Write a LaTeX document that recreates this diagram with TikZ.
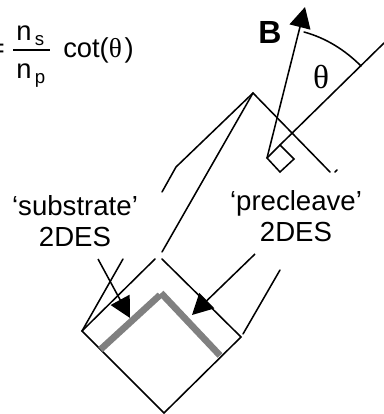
\documentclass[tikz,border=0pt]{standalone}
\usepackage{fontspec}
\setmainfont{Liberation Sans}
\newfontfamily\thetafont{Liberation Serif}
\usepackage{xcolor}
\usetikzlibrary{arrows.meta}
\tikzset{
  edgeline/.style={line width=1.15pt,line cap=round,line join=miter},
  layerline/.style={line width=5pt,draw=black!50,line join=miter},
  pointer/.style={line width=1.15pt,-{Triangle[length=15.5pt,width=16pt]}},
  labeltext/.style={font=\fontsize{20.7}{23}\selectfont,align=center,inner sep=0pt},
  formula/.style={font=\fontsize{20.5}{24}\selectfont,inner sep=0pt}
}
\begin{document}
\begin{tikzpicture}[x=0.75pt,y=-0.75pt]
  \useasboundingbox (0,0) rectangle (384,414);
  \clip (0,0) rectangle (384,414);
  % sample outline
  \coordinate (leftv) at (82,331);
  \coordinate (bottomv) at (164,413);
  \coordinate (rightv) at (241,337);
  \coordinate (apex) at (253,93);
  \draw[edgeline] (155,259) -- (leftv) -- (bottomv) -- (rightv) -- (162,259);
  \draw[edgeline] (leftv) -- (123,259);
  \draw[edgeline] (162,192) -- (176,167) -- (apex) -- (330,172);
  \draw[edgeline] (162,252) -- (apex);
  \draw[edgeline] (243,334) -- (280,270);
  \draw[edgeline] (335,172) -- (337,170);
  % gray 2DES layers
  \coordinate (subend) at (100.5,349.5);
  \coordinate (preend) at (220,355.5);
  \draw[layerline] (subend) -- (160,295);
  \draw[layerline] (161,293) -- (preend);
  % field and surface normal
  \coordinate (origin) at (267,158);
  \coordinate (btip) at (305,7);
  \draw[pointer] (origin) -- (btip);
  \draw[edgeline] (280,145) -- (384,43);
  \draw[edgeline] (origin) -- (280,145) -- (294,159) -- (280,172) -- cycle;
  \draw[edgeline] (304,32) .. controls (326,38) and (345,50) .. (361,66);
  \node[font=\fontsize{24}{28}\selectfont\bfseries,inner sep=0pt] (blabel) at (270,32) {B};
  \node[font=\fontsize{25}{28}\selectfont\thetafont,inner sep=0pt] (thetalabel) at (321,77) {θ};
  % labels and their arrows
  \node[labeltext] (sublabel) at (75,221) {‘substrate’\\2DES};
  \node[labeltext] (prelabel) at (296,216) {‘precleave’\\2DES};
  \coordinate (subtip) at (130,318);
  \coordinate (pretip) at (192,315);
  \draw[pointer] (98,259) -- (subtip);
  \draw[pointer] (255,254) -- (pretip);
  % formula
  \node[formula,anchor=east] (eqsign) at (5,51) {=};
  \node[formula,anchor=base west] (ns) at (16,40) {n\raisebox{-4pt}{\hspace{2.5pt}\fontsize{14}{16}\selectfont s}};
  \node[formula,anchor=base west] (np) at (16,78) {n\raisebox{-4pt}{\hspace{2.5pt}\fontsize{14}{16}\selectfont p}};
  \draw[line width=2.2pt] (13,50) -- (50,50);
  \node[formula,anchor=base west] (cot) at (63,57) {cot({\thetafont θ}\hspace{2pt})};
\end{tikzpicture}
\end{document}
